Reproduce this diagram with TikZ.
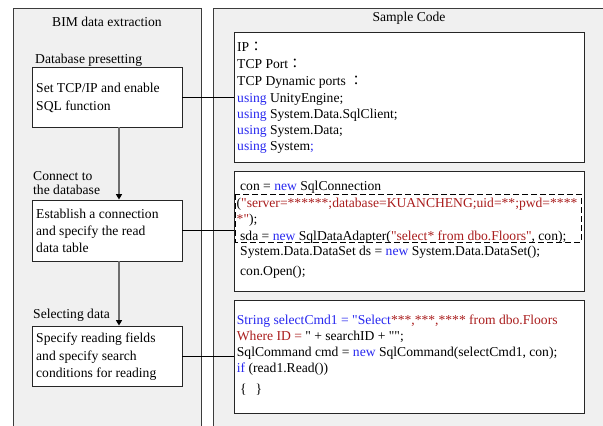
\documentclass[tikz,border=0pt]{standalone}
\usepackage{fontspec}
\setmainfont{Liberation Serif}[Ligatures=TeXOff]
\newfontfamily\cjk{Noto Sans CJK TC}
\usetikzlibrary{arrows.meta}
\definecolor{panelfill}{RGB}{240,240,240}
\definecolor{panelline}{RGB}{60,60,60}
\definecolor{kw}{RGB}{40,40,240}
\definecolor{str}{RGB}{170,30,30}
\definecolor{flow}{RGB}{110,110,110}
\newcommand{\fw}{{\cjk ：}}
\begin{document}
\begin{tikzpicture}[x=1pt,y=-1pt,
  every node/.style={font=\fontsize{13.6}{17}\selectfont, inner sep=0pt},
  panel/.style={fill=panelfill, draw=panelline, line width=0.9pt},
  stagebox/.style={draw=black!85, fill=white, line width=0.9pt, rectangle},
  codebox/.style={draw=black!85, fill=white, line width=0.9pt, rectangle},
  txt/.style={anchor=base west},
  flowarrow/.style={draw=flow, line width=1.5pt, -{Triangle[black,length=5.5pt,width=6pt]}},
  link/.style={draw=black, line width=0.8pt}]
\useasboundingbox (0,0) rectangle (603,426);

% two background panels
\path[panel] (13,8) rectangle (201,440);
\path[panel] (213,8) rectangle (620,440);
\node (t1) at (107,22) {BIM data extraction};
\node (t2) at (409,18) {Sample Code};

% left column: process steps
\node[stagebox, minimum width=150pt, minimum height=60pt] (b1) at (107,97) {};
\node[stagebox, minimum width=150pt, minimum height=61pt] (b2) at (107,230.5) {};
\node[stagebox, minimum width=150pt, minimum height=60pt] (b3) at (107,356) {};

\node[txt] (h1) at (35,63) {Database presetting};
\node[txt] (b1a) at (36,92.7) {Set TCP/IP and enable};
\node[txt] (b1b) at (36,110) {SQL function};

\node[txt] (h2a) at (33,180) {Connect to};
\node[txt] (h2b) at (33,194) {the database};
\node[txt] (b2a) at (36,218) {Establish a connection};
\node[txt] (b2b) at (36,235) {and specify the read};
\node[txt] (b2c) at (36,252) {data table};

\node[txt] (h3) at (33,318) {Selecting data};
\node[txt] (b3a) at (36,342.7) {Specify reading fields};
\node[txt] (b3b) at (36,360) {and specify search};
\node[txt] (b3c) at (36,377) {conditions for reading};

\draw[flowarrow] (b1.south -| 119,0) -- (b2.north -| 119,0);
\draw[flowarrow] (b2.south -| 119,0) -- (b3.north -| 119,0);

% right column: code boxes
\node[codebox, minimum width=350pt, minimum height=129.3pt] (c1) at (409,97.35) {};
\node[codebox, minimum width=350pt, minimum height=120pt] (c2) at (409,231) {};
\node[codebox, minimum width=350pt, minimum height=113pt] (c3) at (409,356.5) {};
\draw[black, line width=0.8pt, dash pattern=on 6pt off 3pt] (235,194) rectangle (581,242);

\draw[link] (b1.east) -- (b1.east -| c1.west);
\draw[link] (b2.east) -- (b2.east -| c2.west);
\draw[link] (b3.east) -- (b3.east -| c3.west);

% code in the first box
\node[txt] (k1) at (237,51.7) {IP\fw};
\node[txt] (k2) at (237,68.3) {TCP Port\fw};
\node[txt] (k3) at (237,85) {TCP Dynamic ports \fw};
\node[txt] (k4) at (237,102.3) {\textcolor{kw}{using} UnityEngine;};
\node[txt] (k5) at (237,118.3) {\textcolor{kw}{using} System.Data.SqlClient;};
\node[txt] (k6) at (237,134.3) {\textcolor{kw}{using} System.Data;};
\node[txt] (k7) at (237,150.3) {\textcolor{kw}{using} System\textcolor{kw}{;}};

% code in the second box
\node[txt] (m1) at (240,190.7) {con = \textcolor{kw}{new} SqlConnection};
\node[txt] (m2) at (236.5,207) {(\textcolor{str}{"server=******;database=KUANCHENG;uid=**;pwd=****}};
\node[txt] (m3) at (236.5,223) {\textcolor{str}{*"});};
\node[txt] (m4) at (240,240) {sda = \textcolor{kw}{new} SqlDataAdapter(\textcolor{str}{"select* from dbo.Floors"}, con);};
\node[txt] (m5) at (240,255.7) {System.Data.DataSet ds = \textcolor{kw}{new} System.Data.DataSet();};
\node[txt] (m6) at (240,275.7) {con.Open();};

% code in the third box
\node[txt] (n1) at (236.7,324) {\textcolor{kw}{String selectCmd1 = "Select}\textcolor{str}{***,***,**** from dbo.Floors}};
\node[txt] (n2) at (236.7,340) {\textcolor{str}{Where ID = }" + searchID + "";};
\node[txt] (n3) at (236.7,356) {SqlCommand cmd = \textcolor{kw}{new} SqlCommand(selectCmd1, con);};
\node[txt] (n4) at (236.7,372.7) {\textcolor{kw}{if} (read1.Read())};
\node[txt] (n5) at (240,393.3) {\{\hspace{9pt}\}};
\end{tikzpicture}
\end{document}
